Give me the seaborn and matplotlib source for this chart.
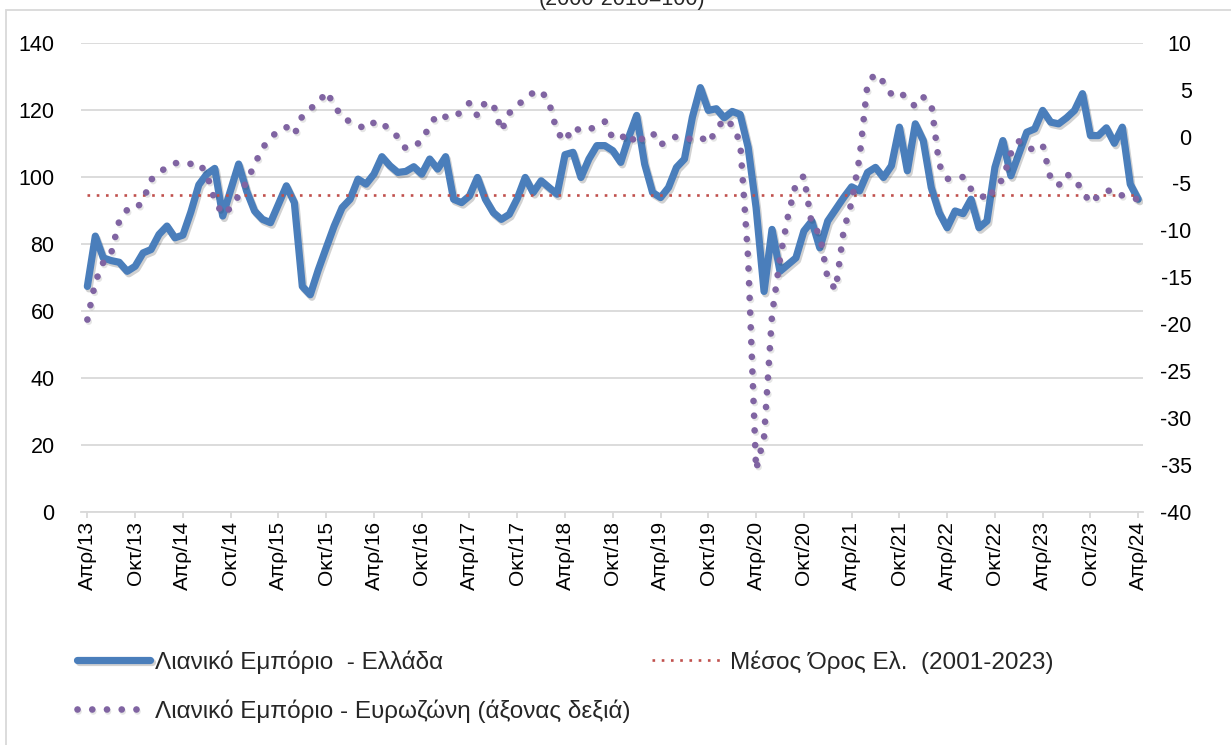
import numpy as np
import pandas as pd
import seaborn as sb
import matplotlib.pyplot as plt
import matplotlib.patheffects as pe
from matplotlib.patches import Rectangle

# Greece retail confidence (left axis), monthly Apr/13 .. Apr/24
greece = [
    67.3, 82.3, 75.8, 75.0, 74.5, 71.8, 73.3, 77.3, 78.3, 82.8,
    85.3, 81.8, 82.6, 89.5, 97.6, 100.8, 102.5, 88.3, 96.0, 103.8,
    95.8, 89.8, 87.3, 86.3, 91.8, 97.3, 92.3, 67.3, 64.8, 72.2,
    78.8, 85.3, 90.8, 93.3, 99.3, 97.8, 100.8, 106.0, 103.3, 101.3,
    101.6, 103.0, 100.8, 105.3, 102.3, 106.0, 93.3, 92.3, 94.3, 99.8,
    93.3, 89.3, 87.3, 88.8, 93.5, 99.8, 95.3, 98.8, 96.8, 94.8,
    106.6, 107.3, 99.8, 105.3, 109.3, 109.3, 107.8, 104.3, 111.8, 118.3,
    103.8, 95.3, 93.8, 96.8, 102.8, 105.3, 117.8, 126.6, 119.8, 120.3,
    117.6, 119.5, 118.6, 108.8, 90.8, 65.8, 84.3, 71.8, 73.8, 75.8,
    83.8, 86.8, 78.8, 86.8, 90.3, 93.8, 97.0, 95.8, 101.3, 102.8,
    99.8, 103.3, 114.8, 101.8, 115.8, 110.8, 96.8, 89.3, 84.8, 89.8,
    89.0, 93.3, 84.8, 86.8, 102.8, 110.8, 100.3, 106.8, 113.3, 114.3,
    119.8, 116.3, 115.8, 117.6, 119.8, 124.8, 112.3, 112.3, 114.6, 110.0,
    114.8, 97.8, 93.3,
]

# Euro area retail confidence (right axis)
euro = [
    -19.5, -15.5, -13.4, -12.4, -9.0, -7.8, -7.8, -6.8, -4.6, -3.9,
    -3.2, -2.8, -3.0, -2.9, -2.8, -4.0, -6.8, -8.3, -7.6, -6.3,
    -4.8, -3.0, -1.2, -0.2, 0.7, 1.0, 0.2, 2.2, 3.0, 3.5,
    4.8, 3.4, 2.0, 1.6, 1.2, 0.8, 1.5, 1.6, 0.5, 0.0,
    -1.3, -1.0, -0.5, 1.2, 2.4, 2.1, 2.0, 2.7, 3.6, 2.2,
    3.7, 3.4, 0.6, 2.5, 3.4, 3.9, 4.7, 4.9, 3.6, 0.5,
    -0.5, 1.0, 0.6, 0.7, 1.2, 1.6, -0.2, -0.2, 0.4, -0.9,
    0.1, 0.4, -0.9, -0.3, 0.0, -0.3, -0.2, 0.0, -0.7, 0.7,
    1.9, 1.2, -0.6, -13.0, -35.5, -32.0, -19.0, -13.0, -8.5, -5.0,
    -4.2, -9.4, -10.4, -15.2, -16.3, -10.0, -7.0, -2.2, 5.7, 6.7,
    5.8, 4.5, 4.8, 4.0, 3.2, 4.2, 3.5, -3.0, -4.5, -4.5,
    -4.3, -5.6, -6.0, -6.8, -5.5, -4.5, -1.8, -0.5, -1.2, -1.4,
    -0.9, -4.5, -5.2, -4.0, -4.5, -5.8, -7.1, -6.3, -5.8, -5.7,
    -6.3, -6.5, -6.7,
]

# Greek long-run average 2001-2023
mean_gr = 94.5

tick_labels = [
    "Απρ/13", "Οκτ/13", "Απρ/14", "Οκτ/14", "Απρ/15", "Οκτ/15", "Απρ/16", "Οκτ/16",
    "Απρ/17", "Οκτ/17", "Απρ/18", "Οκτ/18", "Απρ/19", "Οκτ/19", "Απρ/20", "Οκτ/20",
    "Απρ/21", "Οκτ/21", "Απρ/22", "Οκτ/22", "Απρ/23", "Οκτ/23", "Απρ/24",
]
series_labels = [
    "Λιανικό Εμπόριο  - Ελλάδα",
    "Λιανικό Εμπόριο - Ευρωζώνη (άξονας δεξιά)",
    "Μέσος Όρος Ελ.  (2001-2023)",
]

df = pd.DataFrame({
    "month": np.arange(len(greece)),
    "greece": greece,
    "euro": euro,
    "mean": [mean_gr] * len(greece),
})

sb.set_theme(style="white")
plt.rcParams["font.family"] = ["Liberation Sans", "DejaVu Sans"]
plt.rcParams["axes.unicode_minus"] = False

W, H = 1231, 745
fig = plt.figure(figsize=(W / 100, H / 100), dpi=100)
ax = fig.add_axes([81 / W, 1 - 512 / H, 1062 / W, 469.3 / H])
ax2 = ax.twinx()

shadow = [pe.SimpleLineShadow(offset=(1.2, -1.8), shadow_color="black", alpha=0.18), pe.Normal()]
soft_shadow = [pe.SimpleLineShadow(offset=(1.0, -1.5), shadow_color="black", alpha=0.1), pe.Normal()]

sb.lineplot(data=df, x="month", y="greece", ax=ax, color="#4a7ebb", lw=5.2,
            solid_joinstyle="round", path_effects=shadow, zorder=3)
sb.lineplot(data=df, x="month", y="mean", ax=ax, color="#c0504d", lw=1.9,
            linestyle=(0, (1, 2.5)), zorder=4)
sb.lineplot(data=df, x="month", y="euro", ax=ax2, color="#8064a2", lw=4.8,
            linestyle=(0, (0.01, 2.2)), dash_capstyle="round", path_effects=soft_shadow)

gr_line, mean_line = ax.lines[0], ax.lines[1]
eu_line = ax2.lines[0]

# axes cosmetics
ax.set_xlim(-0.8, 132.6)
ax.set_ylim(0, 140)
ax2.set_ylim(-40, 10)
ax.set_yticks(range(0, 141, 20))
ax2.set_yticks(range(-40, 11, 5))
ax.set_xticks(range(0, 133, 6))
ax.set_xticklabels(tick_labels, rotation=90)
ax.set_xlabel("")
ax.set_ylabel("")
ax2.set_ylabel("")

ax.yaxis.grid(True, color="#d9d9d9", lw=1.3)
ax.set_axisbelow(True)
for a in (ax, ax2):
    for s in ("left", "right", "top", "bottom"):
        a.spines[s].set_visible(False)
ax.spines["bottom"].set_visible(True)
ax.spines["bottom"].set_color("#d9d9d9")
ax.spines["bottom"].set_linewidth(1.3)

ax.tick_params(axis="x", length=4.5, width=1.3, color="#d9d9d9", pad=2,
               labelsize=15, labelcolor="black", bottom=True)
ax.tick_params(axis="y", length=0, pad=19, labelsize=15.5, labelcolor="black")
ax2.tick_params(axis="y", length=0, pad=35, labelsize=15.5, labelcolor="black")
for t in ax2.get_yticklabels():
    t.set_horizontalalignment("right")

# title (cut at the top like the source)
fig.text(0.505, 1.0, "(2000-2010=100)", ha="center", va="center", fontsize=15.5)

# chart frame
fig.patches.append(Rectangle((6 / W, -0.1), 1.2, 1.1 - 10 / H, transform=fig.transFigure,
                             fill=False, edgecolor="#d9d9d9", lw=1.3))

fig.legend([gr_line, eu_line, mean_line], series_labels, ncol=2,
           loc="upper left", bbox_to_anchor=(77 / W, 1 - 650 / H),
           frameon=False, fontsize=17.5, handlelength=3.0, handletextpad=0.2,
           columnspacing=0.9, labelspacing=1.05, borderpad=0, borderaxespad=0)

fig.savefig("out.png", dpi=100)
